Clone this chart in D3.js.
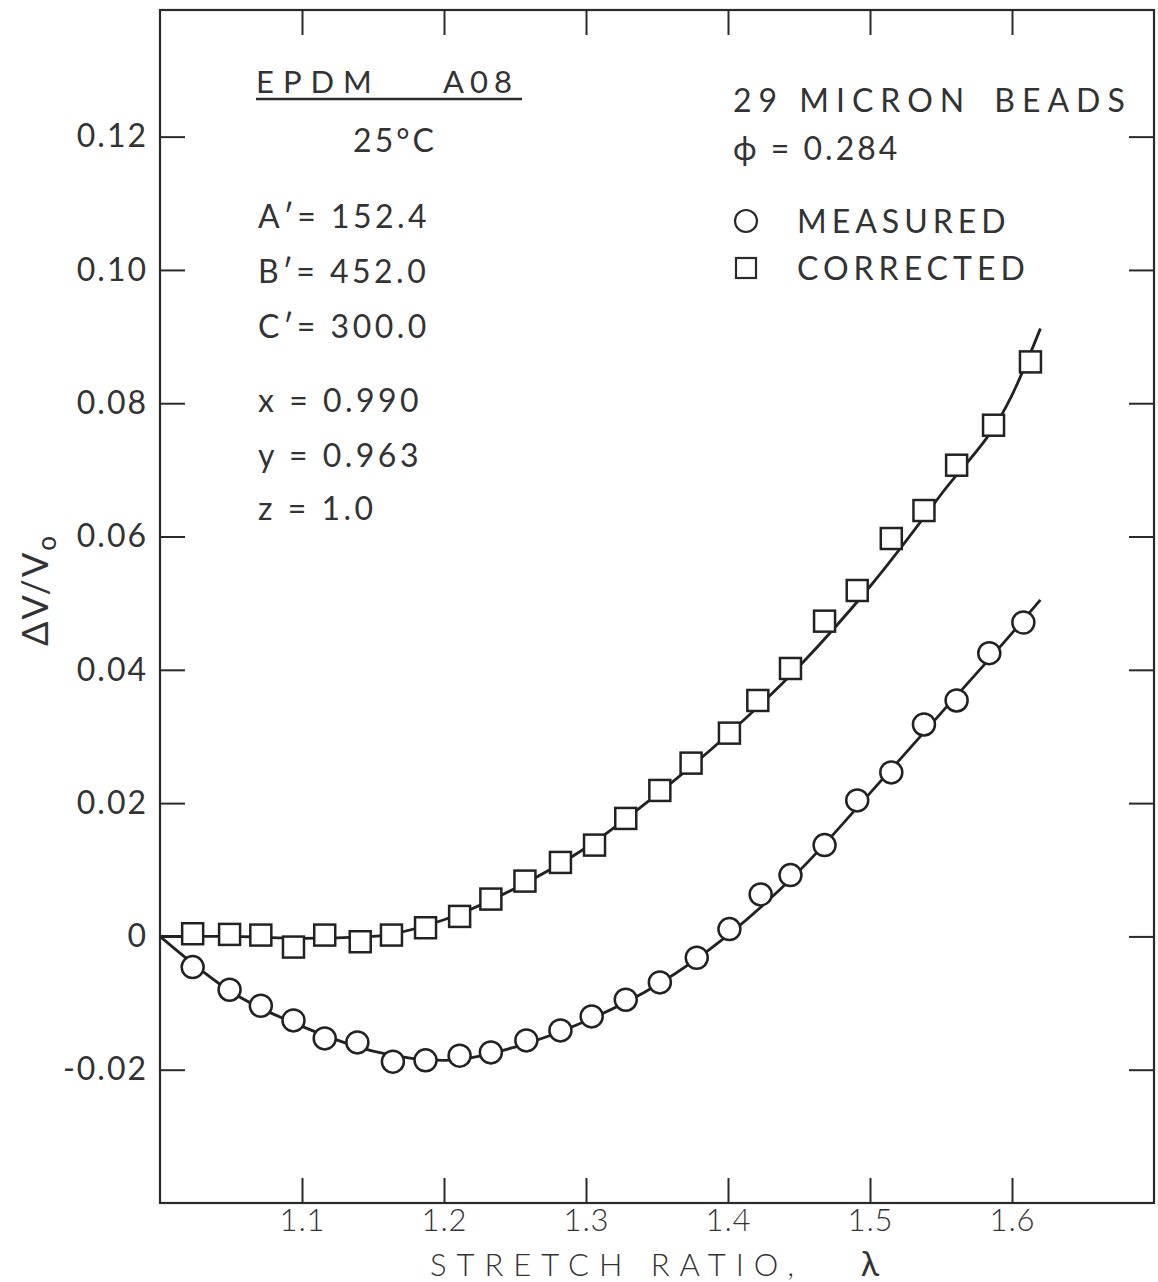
<!DOCTYPE html>
<html>
<head>
<meta charset="utf-8">
<script src="https://cdn.jsdelivr.net/npm/d3@7"></script>
<style>
  body { margin: 0; background: #fff; }
  svg text { font-family: "Lato", "DejaVu Sans", sans-serif; font-weight: 400; fill: #333; }
</style>
</head>
<body>
<div id="chart"></div>
<script>
// stretch ratio of each measured point
const measured_x = [1.023, 1.049, 1.071, 1.094, 1.116, 1.139, 1.164, 1.187, 1.211, 1.233,
  1.258, 1.282, 1.304, 1.328, 1.352, 1.378, 1.401, 1.423, 1.444, 1.468,
  1.491, 1.515, 1.538, 1.561, 1.584, 1.608];
const measured_y = [-0.0046, -0.0080, -0.0104, -0.0126, -0.0153, -0.0159, -0.0188, -0.0186, -0.0179, -0.0174,
  -0.0156, -0.0141, -0.0120, -0.0095, -0.0069, -0.0032, 0.0011, 0.0063, 0.0092, 0.0137,
  0.0204, 0.0246, 0.0318, 0.0354, 0.0425, 0.0471];

const corrected_x = [1.023, 1.049, 1.071, 1.094, 1.116, 1.141, 1.163, 1.187, 1.211, 1.233,
  1.257, 1.282, 1.306, 1.328, 1.352, 1.374, 1.401, 1.421, 1.444, 1.468,
  1.491, 1.515, 1.538, 1.561, 1.587, 1.613];
const corrected_y = [0.0004, 0.0003, 0.0002, -0.0016, 0.0002, -0.0008, 0.0002, 0.0013, 0.0030, 0.0056,
  0.0083, 0.0111, 0.0137, 0.0177, 0.0219, 0.0260, 0.0305, 0.0354, 0.0402, 0.0473,
  0.0519, 0.0597, 0.0639, 0.0707, 0.0767, 0.0862];

// smooth fitted curves
const measured_fit_x = [1.0, 1.05, 1.1, 1.15, 1.2, 1.25, 1.3, 1.35, 1.4, 1.45, 1.5, 1.55, 1.6, 1.62];
const measured_fit_y = [0.0, -0.0083, -0.0135, -0.0172, -0.0186, -0.0166, -0.0127, -0.0073, 0.0002, 0.0098, 0.0215, 0.0335, 0.0455, 0.0505];
const corrected_fit_x = [1.0, 1.05, 1.1, 1.15, 1.2, 1.25, 1.3, 1.35, 1.4, 1.45, 1.5, 1.55, 1.6, 1.62];
const corrected_fit_y = [0.0, 0.0, -0.0003, 0.0, 0.0025, 0.0072, 0.0133, 0.0213, 0.0303, 0.0405, 0.0525, 0.0663, 0.0812, 0.0912];

const x_ticks = [1.1, 1.2, 1.3, 1.4, 1.5, 1.6];
const x_tick_labels = ["1.1", "1.2", "1.3", "1.4", "1.5", "1.6"];
const y_ticks = [0.12, 0.10, 0.08, 0.06, 0.04, 0.02, 0, -0.02];
const y_tick_labels = ["0.12", "0.10", "0.08", "0.06", "0.04", "0.02", "0", "-0.02"];

const width = 1158, height = 1282;
const plot_left = 160, plot_right = 1154, plot_top = 10, plot_bottom = 1203;
const tick_len = 25;

let svg = d3.select("#chart").append("svg")
  .attr("width", width)
  .attr("height", height);

let x = d3.scaleLinear().domain([1.0, 1.7]).range([plot_left, plot_right]);
let y = d3.scaleLinear().domain([-0.04, 0.139]).range([plot_bottom, plot_top]);

// frame
svg.append("rect")
  .attr("x", plot_left).attr("y", plot_top)
  .attr("width", plot_right - plot_left).attr("height", plot_bottom - plot_top)
  .attr("fill", "none").attr("stroke", "#2a2a2a").attr("stroke-width", 2.2);

function style_axis(g, show_labels, font_size, spacing, weight) {
  g.select(".domain").remove();
  g.selectAll(".tick line").attr("stroke", "#2a2a2a").attr("stroke-width", 2);
  if (!show_labels) { g.selectAll(".tick text").remove(); }
  else {
    g.selectAll(".tick text")
      .attr("fill", "#333")
      .style("font-family", "Lato, 'DejaVu Sans', sans-serif")
      .style("font-weight", weight)
      .style("letter-spacing", spacing + "px")
      .style("font-size", font_size + "px");
  }
}

svg.append("g")
  .attr("transform", `translate(0,${plot_bottom})`)
  .call(d3.axisBottom(x).tickValues(x_ticks).tickSize(-tick_len).tickPadding(6)
    .tickFormat((d, i) => x_tick_labels[i]))
  .call((g) => style_axis(g, true, 31, 1, 300));

svg.append("g")
  .attr("transform", `translate(0,${plot_top})`)
  .call(d3.axisTop(x).tickValues(x_ticks).tickSize(-tick_len))
  .call((g) => style_axis(g, false));

svg.append("g")
  .attr("transform", `translate(${plot_left},0)`)
  .call(d3.axisLeft(y).tickValues(y_ticks).tickSize(-tick_len).tickPadding(12)
    .tickFormat((d, i) => y_tick_labels[i]))
  .call((g) => style_axis(g, true, 32, 2, 400));

svg.append("g")
  .attr("transform", `translate(${plot_right},0)`)
  .call(d3.axisRight(y).tickValues(y_ticks).tickSize(-tick_len))
  .call((g) => style_axis(g, false));

// fitted curves
let line = d3.line()
  .x((d) => x(d[0]))
  .y((d) => y(d[1]))
  .curve(d3.curveMonotoneX);

svg.append("path")
  .datum(measured_fit_x.map((v, i) => [v, measured_fit_y[i]]))
  .attr("d", line)
  .attr("fill", "none").attr("stroke", "#222").attr("stroke-width", 2.8);

svg.append("path")
  .datum(corrected_fit_x.map((v, i) => [v, corrected_fit_y[i]]))
  .attr("d", line)
  .attr("fill", "none").attr("stroke", "#222").attr("stroke-width", 2.8);

// points
const r = 11, s = 21;
svg.selectAll(".measured")
  .data(measured_x.map((v, i) => [v, measured_y[i]]))
  .enter().append("circle")
  .attr("class", "measured")
  .attr("cx", (d) => x(d[0]))
  .attr("cy", (d) => y(d[1]))
  .attr("r", r)
  .attr("fill", "#fff").attr("stroke", "#222").attr("stroke-width", 2.5);

svg.selectAll(".corrected")
  .data(corrected_x.map((v, i) => [v, corrected_y[i]]))
  .enter().append("rect")
  .attr("class", "corrected")
  .attr("x", (d) => x(d[0]) - s / 2)
  .attr("y", (d) => y(d[1]) - s / 2)
  .attr("width", s).attr("height", s)
  .attr("fill", "#fff").attr("stroke", "#222").attr("stroke-width", 2.5);

// annotations
function label(txt, px, py, size, spacing, anchor) {
  return svg.append("text")
    .attr("x", px).attr("y", py)
    .attr("text-anchor", anchor || "start")
    .style("font-size", size + "px")
    .style("letter-spacing", (spacing || 0) + "px")
    .text(txt);
}

// left block
label("EPDM", 256, 93, 31, 9);
label("A08", 443, 93, 31, 6);
svg.append("line")
  .attr("x1", 256).attr("x2", 522).attr("y1", 99).attr("y2", 99)
  .attr("stroke", "#2a2a2a").attr("stroke-width", 2.5);
label("25°C", 395, 152, 32, 3, "middle");
label("A\u2032= 152.4", 258, 228, 32, 3.5);
label("B\u2032= 452.0", 258, 283, 32, 3.5);
label("C\u2032= 300.0", 258, 338, 32, 3.5);
label("x = 0.990", 258, 412, 32, 3.5);
label("y = 0.963", 258, 467, 32, 3.5);
label("z = 1.0", 258, 520, 32, 3.5);

// right block
label("29 MICRON\u2002BEADS", 733, 112, 32, 7);
label("\u03d5 = 0.284", 733, 160, 32, 3);

svg.append("circle")
  .attr("cx", 746).attr("cy", 221).attr("r", 11)
  .attr("fill", "none").attr("stroke", "#2a2a2a").attr("stroke-width", 2.2);
label("MEASURED", 797, 233, 32, 5);
svg.append("rect")
  .attr("x", 736).attr("y", 258).attr("width", 20).attr("height", 20)
  .attr("fill", "none").attr("stroke", "#2a2a2a").attr("stroke-width", 2.2);
label("CORRECTED", 797, 280, 32, 5);

// axis titles
label("STRETCH RATIO,", 430, 1276, 31, 10).style("font-weight", 300);
label("\u03bb", 870, 1276, 34, 0, "middle");

let yt = svg.append("text")
  .attr("transform", "translate(48,590) rotate(-90)")
  .attr("text-anchor", "middle")
  .style("font-size", "36px")
  .style("letter-spacing", "2px");
yt.append("tspan").text("\u0394V/V");
yt.append("tspan").attr("dy", 8).style("font-size", "26px").text("o");
</script>
</body>
</html>
